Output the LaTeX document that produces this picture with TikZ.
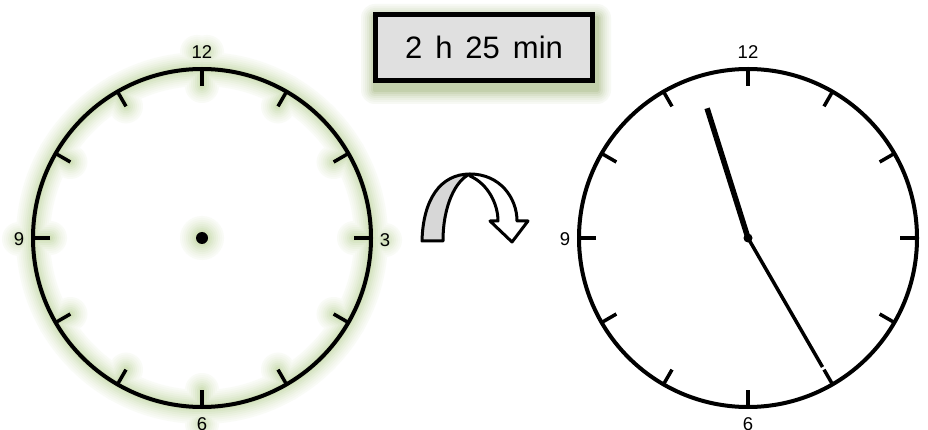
\documentclass[tikz,border=0pt]{standalone}
\usepackage{fontspec}
\setmainfont{Liberation Sans}
\definecolor{glowc}{RGB}{165,195,120}
\definecolor{shadc}{RGB}{140,165,95}
\definecolor{boxfill}{RGB}{224,224,224}
\definecolor{arrowfill}{RGB}{215,215,215}
\tikzset{
  ring/.style={line width=4pt, draw=black},
  tickmark/.style={line width=3.5pt, draw=black},
  num/.style={inner sep=0pt, font=\fontsize{18.5}{18.5}\selectfont},
  labelbox/.style={draw=black, line width=4.5pt, fill=boxfill, minimum width=217pt,
    minimum height=66pt, inner sep=0pt, font=\fontsize{31}{31}\selectfont},
  arrowline/.style={line width=3pt, draw=black, line join=round}
}
\begin{document}
\begin{tikzpicture}[x=1pt,y=-1pt]
\fill[white] (0,0) rectangle (928,430);
\useasboundingbox (0,0) rectangle (928,430);

% ---- glow of the left clock
\foreach \w/\p in {34/7, 30/11, 26/16, 22/22, 18/28, 14/35, 10/42, 6/50} {
  \begin{scope}[draw=glowc!\p!white, fill=glowc!\p!white]
    \draw[line width=\w pt] (202,238) circle (169);
    \foreach \a in {0,30,...,330}
      \draw[line width=\w pt, line cap=round] ({202+152*sin(\a)},{238-152*cos(\a)}) -- ({202+169*sin(\a)},{238-169*cos(\a)});
    \fill (202,238) circle ({\w/2+5});
    \fill (197,52) circle ({\w/2});
    \fill (207,52) circle ({\w/2});
    \fill (19,239) circle ({\w/2});
    \fill (385,240) circle ({\w/2});
    \fill (202,424) circle ({\w/2});
  \end{scope}
}

% ---- left clock
\coordinate (Lc) at (202,238);
\draw[ring] (Lc) circle (169);
\foreach \a in {0,30,...,330}
  \draw[tickmark] ({202+152*sin(\a)},{238-152*cos(\a)}) -- ({202+169*sin(\a)},{238-169*cos(\a)});
\fill[black] (Lc) circle (6);
\node[num] (L12) at (202,52) {12};
\node[num] (L9) at (19,239) {9};
\node[num] (L3) at (385,240) {3};
\node[num] (L6) at (202,424) {6};

% ---- right clock
\coordinate (Rc) at (748,238);
\draw[ring] (Rc) circle (169);
\foreach \a in {0,30,...,330}
  \draw[tickmark] ({748+152*sin(\a)},{238-152*cos(\a)}) -- ({748+169*sin(\a)},{238-169*cos(\a)});
\node[num] (R12) at (748,52) {12};
\node[num] (R9) at (565,239) {9};
\node[num] (R3) at (933,239) {3};
\node[num] (R6) at (748,424) {6};
\coordinate (Rhour) at ({748+136*sin(-17.5)},{238-136*cos(-17.5)});
\coordinate (Rmin) at ({748+149*sin(150)},{238-149*cos(150)});
\draw[line width=5.5pt] (Rc) -- (Rhour);
\draw[line width=3.5pt] (Rc) -- (Rmin);
\fill[black] (Rc) circle (4.5);

% ---- box shadow (green glow)
\foreach \e/\p in {14/7, 12/12, 10/18, 8/25, 6/33, 4/42, 2/52} {
  \fill[shadc!\p!white, rounded corners=\e pt] ({373+2-\e},{12+6-\e}) rectangle ({595+2+\e},{83+7+\e});
}
\node[labelbox] (T) at (484,47.5) {2\hspace{13pt}h\hspace{13pt}25\hspace{13pt}min};

% ---- curved arrow
\filldraw[arrowline, fill=arrowfill] (422,241) .. controls (423,200) and (440,174) .. (470,174)
  .. controls (456,180) and (443,205) .. (443,241) -- cycle;
\filldraw[arrowline, fill=white] (470,174) .. controls (500,174) and (517,198) .. (517,221)
  -- (528,221) -- (512,242) -- (490,221) -- (498,221)
  .. controls (498,204) and (488,184) .. (470,176) -- cycle;
\end{tikzpicture}
\end{document}
